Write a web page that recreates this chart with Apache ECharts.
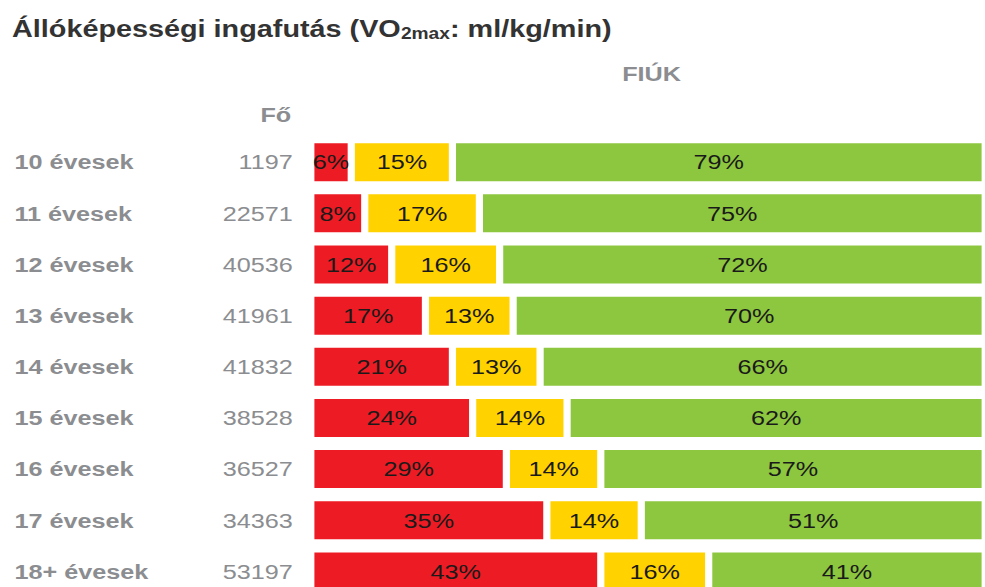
<!DOCTYPE html>
<html>
<head>
<meta charset="utf-8">
<script src="https://cdn.jsdelivr.net/npm/echarts@6/dist/echarts.min.js"></script>
<style>
  html, body { margin: 0; padding: 0; background: #fff; overflow: hidden; width: 985px; height: 587px; }
  /* the original picture is stretched sideways, so the chart is drawn narrower and widened */
  #chart { width: 821px; height: 600px; transform: scale(1.2, 1); transform-origin: 0 0; }
</style>
</head>
<body>
<div id="chart"></div>
<script>
// korcsoportok es letszamok
const categories = ['10 évesek', '11 évesek', '12 évesek', '13 évesek', '14 évesek', '15 évesek', '16 évesek', '17 évesek', '18+ évesek'];
const counts = [1197, 22571, 40536, 41961, 41832, 38528, 36527, 34363, 53197];
// szazalekok zonankent
const redValues = [6, 8, 12, 17, 21, 24, 29, 35, 43];
const yellowValues = [15, 17, 16, 13, 13, 14, 14, 14, 16];
const greenValues = [79, 75, 72, 70, 66, 62, 57, 51, 41];

const font = 'Liberation Sans, Arial, sans-serif';
const grey = '#8b8d90';

function bar(name, data, color) {
  return {
    name: name,
    type: 'bar',
    stack: 'total',
    data: data,
    barCategoryGap: '14%',
    itemStyle: { color: color, borderColor: '#fff', borderWidth: 3 },
    label: {
      show: true,
      position: 'inside',
      formatter: '{c}%',
      color: '#1a1a1a',
      fontSize: 21,
      fontFamily: font
    }
  }
}

let myChart = echarts.init(document.getElementById('chart'), null, { renderer: 'svg' })
myChart.setOption({
  animation: false,
  title: {
    text: '{t|Állóképességi ingafutás (VO}{s|2max}{t|: ml/kg/min)}',
    left: 5,
    top: 11,
    textStyle: {
      rich: {
        t: { fontSize: 24, fontWeight: 'bold', color: '#333', fontFamily: font },
        s: { fontSize: 16, fontWeight: 'bold', color: '#333', fontFamily: font, padding: [10, 0, 0, 0] }
      }
    }
  },
  graphic: [{
    type: 'text',
    left: 217,
    top: 104,
    style: { text: 'Fő', fontSize: 21, fontWeight: 'bold', fill: grey, fontFamily: font }
  }],
  grid: { left: 259, top: 136.6, width: 563, height: 460.4 },
  xAxis: {
    type: 'value',
    position: 'top',
    min: 0,
    max: 100,
    name: 'FIÚK',
    nameLocation: 'middle',
    nameGap: 52,
    nameTextStyle: { fontSize: 21, fontWeight: 'bold', color: grey, fontFamily: font, padding: [0, 0, 0, 6] },
    axisLine: { show: false },
    axisTick: { show: false },
    axisLabel: { show: false },
    splitLine: { show: false }
  },
  yAxis: {
    type: 'category',
    inverse: true,
    data: categories,
    axisLine: { show: false },
    axisTick: { show: false },
    axisLabel: {
      margin: 15,
      formatter: function (val, idx) {
        return '{n|' + val + '}{c|' + counts[idx] + '}'
      },
      rich: {
        n: { width: 162, align: 'left', fontSize: 21, fontWeight: 'bold', color: grey, fontFamily: font },
        c: { width: 70, align: 'right', fontSize: 21, color: grey, fontFamily: font }
      }
    }
  },
  series: [
    bar('piros', redValues, '#ED1C24'),
    bar('sárga', yellowValues, '#FFD200'),
    bar('zöld', greenValues, '#8DC63F')
  ]
})
</script>
</body>
</html>
